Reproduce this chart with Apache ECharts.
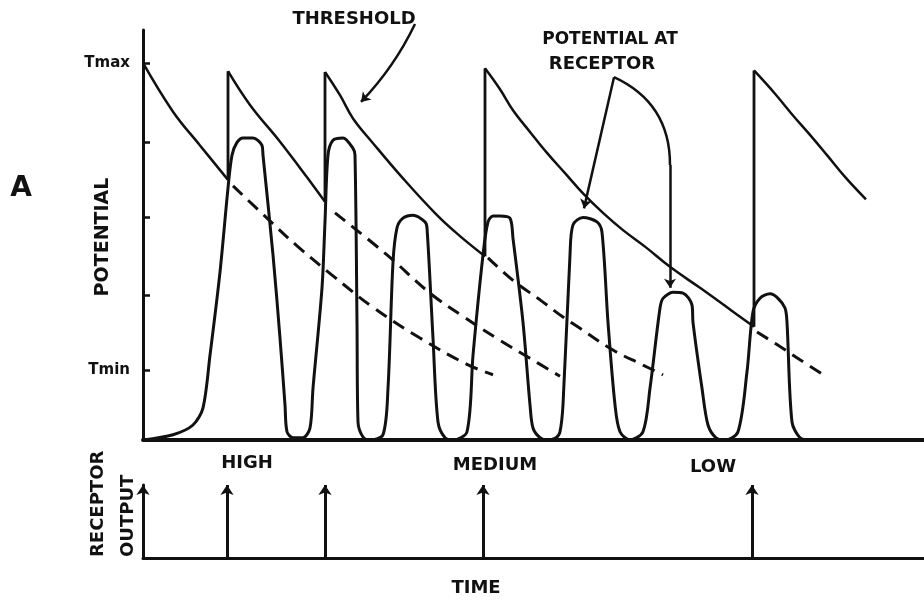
<!DOCTYPE html>
<html>
<head>
<meta charset="utf-8">
<script src="https://cdn.jsdelivr.net/npm/echarts@6.0.0/dist/echarts.min.js"></script>
<style>html,body{margin:0;padding:0;background:#fff}#chart{width:924px;height:601px}</style>
</head>
<body>
<div id="chart"></div>
<script>
// ---- data (time in arbitrary units, potential in arbitrary units) ----
const thresholdSeg1 = [[0,50.3],[3.0,43.8],[5.7,39.3],[8.5,34.7]];
const thresholdSeg2 = [[8.5,49.2],[10.7,44.7],[13.7,39.8],[15.7,36.3],[18.2,31.8]];
const thresholdSeg3 = [[18.2,49.1],[19.7,46.0],[21.0,42.9],[23.0,39.6],[26.0,34.9],[29.4,30.0],[31.7,27.2],[34.2,24.5]];
const thresholdSeg4 = [[34.2,49.6],[35.7,46.8],[37.0,44.0],[38.7,41.1],[40.4,38.3],[42.2,35.6],[44.0,32.9],[46.0,30.3],[48.0,28.0],[50.2,25.8],[52.7,23.1],[55.7,20.3],[58.2,17.9],[61.1,15.1]];
const thresholdSeg5 = [[61.1,49.3],[63.2,46.2],[65.0,43.3],[66.7,40.7],[68.4,38.0],[70.2,35.1],[72.3,32.1]];

const resetTime   = [8.5, 18.2, 34.2, 61.1];
const resetTop    = [49.2, 49.1, 49.6, 49.3];
const resetBottom = [34.7, 31.8, 24.5, 15.1];

const decayDashed1 = [[9.0,33.9],[12.4,29.6],[15.4,25.9],[19.0,21.9],[23.0,17.7],[27.7,13.6],[32.4,10.1],[35.0,8.7]];
const decayDashed2 = [[19.2,30.3],[24.4,24.7],[28.7,19.6],[32.0,16.5],[35.7,13.3],[38.7,10.9],[41.7,8.5]];
const decayDashed3 = [[34.5,24.3],[37.0,21.3],[39.7,18.7],[42.0,16.4],[43.7,14.9],[47.0,12.0],[50.0,10.0],[52.0,8.7]];
const decayDashed4 = [[61.4,14.4],[63.2,12.9],[65.7,10.7],[68.4,8.4]];

const potential = [[0,0],[3.0,0.7],[5.0,2.0],[6.0,4.3],[6.7,11.3],[7.7,22.4],[8.5,33.6],[8.9,38.0],[9.4,39.7],[10.0,40.3],[11.0,40.3],[11.9,39.3],[12.0,38.0],
  [13.0,24.7],[13.7,13.6],[14.2,4.7],[14.4,1.1],[15.0,0.3],[16.0,0.3],[16.7,1.6],[17.0,6.9],[17.9,20.3],[18.2,29.1],[18.5,38.0],[19.0,40.0],[20.0,40.3],[21.0,38.9],[21.2,38.0],
  [21.4,15.7],[21.5,2.4],[22.0,0.4],[22.7,0],[24.0,0.7],[24.5,6.9],[25.0,23.7],[25.4,28.3],[26.0,29.6],[27.0,30.0],[28.2,29.1],[28.4,28.3],
  [29.0,13.6],[29.5,2.4],[30.2,0.3],[31.0,0],[32.4,1.1],[33.0,11.3],[34.0,24.7],[34.5,29.1],[35.0,29.9],[35.7,29.9],[36.7,29.6],[37.0,26.9],
  [38.0,15.7],[38.7,4.7],[39.0,1.6],[39.7,0.3],[40.4,0],[41.3,0.3],[41.7,1.1],[42.0,4.7],[42.7,24.7],[43.0,28.7],[44.0,29.7],[45.4,29.1],[45.9,27.7],
  [46.5,15.7],[47.2,4.7],[47.7,1.1],[48.7,0],[50.0,1.1],[50.7,6.9],[51.7,17.6],[52.0,18.9],[53.0,19.7],[54.0,19.6],[54.9,18.0],[55.0,15.7],
  [55.9,6.9],[56.5,2.0],[57.3,0.3],[58.2,0],[59.5,1.1],[60.4,9.1],[61.0,17.1],[61.7,18.9],[62.7,19.5],[63.5,18.9],[64.2,17.6],[64.4,15.7],
  [64.9,2.4],[65.7,0.3],[66.7,0]];

const outputTimes  = [8.4, 18.2, 34.0, 60.9];
const outputHeight = [1, 1, 1, 1];

const yTickValues  = [9.3, 19.3, 29.7, 39.7, 50.3];
const yLabelValues = [9.3, 50.3];
const yLabelText   = ['Tmin', 'Tmax'];

const thresholdPointer   = [[27.2,55.5],[21.8,45.1]];
const receptorPointerA   = [[47.1,48.4],[44.1,30.9]];
const receptorPointerArc = [[47.1,48.4],[52.7,36.7]];
const receptorPointerB   = [[52.7,36.7],[52.7,20.3]];

// ---- chart ----
const INK = '#111';
const FONT = 'DejaVu Sans';
const chart = echarts.init(document.getElementById('chart'), null, {renderer: 'canvas'});

const baseLine = (data, width, extra) => Object.assign({
  type: 'line', xAxisIndex: 0, yAxisIndex: 0, data: data,
  symbol: 'none', showSymbol: false, silent: true,
  lineStyle: {color: INK, width: width}
}, extra || {});

const series = [];
[thresholdSeg1, thresholdSeg2, thresholdSeg3, thresholdSeg4, thresholdSeg5].forEach(d => {
  series.push(baseLine(d, 2.5, {smooth: 0.4}));
});
resetTime.forEach((t, i) => {
  series.push(baseLine([[t, resetBottom[i]], [t, resetTop[i]]], 2.8));
});
[decayDashed1, decayDashed2, decayDashed3, decayDashed4].forEach(d => {
  series.push(baseLine(d, 3, {smooth: 0.4, lineStyle: {color: INK, width: 3, type: [13, 8]}}));
});
series.push(baseLine(potential, 3, {smooth: 0.3}));

// annotation pointers
series.push({
  type: 'lines', coordinateSystem: 'cartesian2d', xAxisIndex: 0, yAxisIndex: 0,
  clip: false, silent: true, symbol: ['none', 'arrow'], symbolSize: 9,
  lineStyle: {color: INK, width: 2.5, opacity: 1},
  data: [
    {coords: thresholdPointer, lineStyle: {curveness: 0.08}},
    {coords: receptorPointerA},
    {coords: receptorPointerB}
  ]
});
series.push({
  type: 'lines', coordinateSystem: 'cartesian2d', xAxisIndex: 0, yAxisIndex: 0,
  clip: false, silent: true, symbol: ['none', 'none'],
  lineStyle: {color: INK, width: 2.5, opacity: 1, curveness: 0.32},
  data: [{coords: receptorPointerArc}]
});

// receptor output spikes
series.push({
  type: 'lines', coordinateSystem: 'cartesian2d', xAxisIndex: 1, yAxisIndex: 1,
  clip: false, silent: true, symbol: ['none', 'arrow'], symbolSize: 10,
  lineStyle: {color: INK, width: 3, opacity: 1},
  data: outputTimes.map((t, i) => ({coords: [[t, 0], [t, outputHeight[i]]]}))
});

const txt = (text, x, y, size, opts) => Object.assign({
  type: 'text', x: x, y: y, silent: true,
  style: {text: text, fill: INK, font: 'bold ' + size + 'px "' + FONT + '"', align: 'center', verticalAlign: 'middle'}
}, opts || {});

const option = {
  animation: false,
  backgroundColor: '#fff',
  grid: [
    {left: 143, top: 30, width: 781, height: 410},
    {left: 143, top: 485, width: 781, height: 73}
  ],
  xAxis: [
    {gridIndex: 0, type: 'value', min: 0, max: 78.1,
      axisLine: {show: true, lineStyle: {color: INK, width: 4}},
      axisTick: {show: false}, axisLabel: {show: false}, splitLine: {show: false}},
    {gridIndex: 1, type: 'value', min: 0, max: 78.1,
      axisLine: {show: true, lineStyle: {color: INK, width: 3}},
      axisTick: {show: false}, axisLabel: {show: false}, splitLine: {show: false}}
  ],
  yAxis: [
    {gridIndex: 0, type: 'value', min: 0, max: 54.7,
      axisLine: {show: true, onZero: false, lineStyle: {color: INK, width: 3}},
      axisTick: {show: true, inside: true, length: 7, customValues: yTickValues, lineStyle: {color: INK, width: 2.5}},
      axisLabel: {show: true, customValues: yLabelValues, margin: 13, color: INK, fontFamily: FONT, fontWeight: 'bold', fontSize: 15,
        formatter: v => { const i = yLabelValues.indexOf(v); return i >= 0 ? yLabelText[i] : ''; }},
      splitLine: {show: false}},
    {gridIndex: 1, type: 'value', min: 0, max: 1,
      axisLine: {show: true, onZero: false, symbol: ['none', 'arrow'], symbolSize: [10, 10], lineStyle: {color: INK, width: 3}},
      axisTick: {show: false}, axisLabel: {show: false}, splitLine: {show: false}}
  ],
  series: series,
  graphic: [
    txt('A', 21, 189, 28),
    txt('POTENTIAL', 103, 237, 19, {rotation: Math.PI / 2}),
    txt('RECEPTOR', 98, 557, 18, {rotation: Math.PI / 2, style: {text: 'RECEPTOR', fill: INK, font: 'bold 18px "' + FONT + '"', align: 'left', verticalAlign: 'middle'}}),
    txt('OUTPUT', 128, 557, 18, {rotation: Math.PI / 2, style: {text: 'OUTPUT', fill: INK, font: 'bold 18px "' + FONT + '"', align: 'left', verticalAlign: 'middle'}}),
    txt('HIGH', 247, 463, 18),
    txt('MEDIUM', 495, 465, 18),
    txt('LOW', 713, 467, 18),
    txt('TIME', 476, 588, 18),
    txt('THRESHOLD', 354, 19, 18),
    txt('POTENTIAL AT', 610, 40, 17),
    txt('RECEPTOR', 602, 64, 18)
  ]
};
chart.setOption(option);
</script>
</body>
</html>
